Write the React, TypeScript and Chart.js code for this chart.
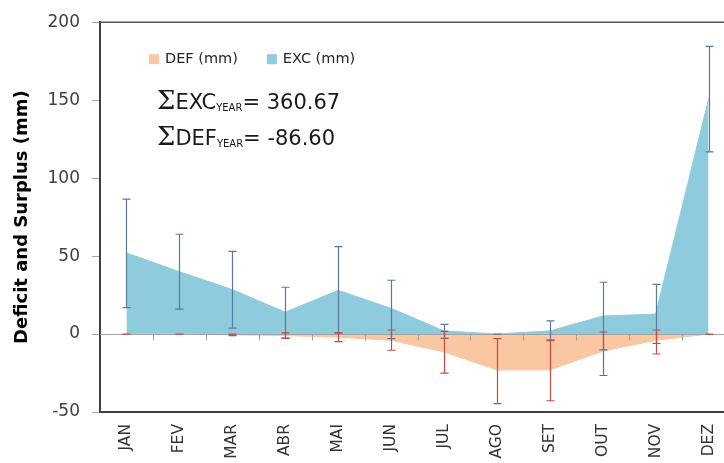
import React, { useEffect, useRef } from 'react';
import { Chart, registerables } from 'chart.js';

Chart.register(...registerables);

// ---- data ----
const months = ['JAN', 'FEV', 'MAR', 'ABR', 'MAI', 'JUN', 'JUL', 'AGO', 'SET', 'OUT', 'NOV', 'DEZ'];
const excValues = [52, 40, 28.5, 14, 28, 16.5, 2, 0, 2, 11.5, 12.8, 150.5];
const defValues = [0, 0, -0.5, -1, -2, -4, -11.5, -23, -23, -11, -4, 0];
const excUpper = [86.5, 64, 53, 30, 56, 34.5, 6.2, 0, 8.5, 33.2, 31.8, 184.5];
const excLower = [17, 16, 3.8, -2.6, 0.8, -3, -2.8, 0, -4.3, -10.2, -6, 116.8];
const defUpper = [0, 0, 0, 0.8, 0.8, 2.6, 1.7, -3, -3.8, 1.3, 2.6, 0];
const defLower = [0, 0, -1, -2.8, -4.9, -10.4, -25.1, -44.6, -42.8, -26.6, -12.8, 0];
const yMin = -50;
const yMax = 200;
const yStep = 50;
const excLabel = 'EXC (mm)';
const defLabel = 'DEF (mm)';
const excTotal = '360.67';
const defTotal = '-86.60';
const yTitle = 'Deficit and Surplus (mm)';

const EXC_FILL = '#8ecbdc';
const DEF_FILL = '#fac7a3';
const EXC_ERR = '#5a78a0';
const DEF_ERR = '#c44a44';

const overlayPlugin = {
  id: 'overlay',
  afterDatasetsDraw(chart: any) {
    const { ctx, chartArea: a, scales } = chart;
    const x = scales.x;
    const y = scales.y;
    ctx.save();
    // zero line
    const y0 = Math.round(y.getPixelForValue(0)) + 0.5;
    ctx.strokeStyle = '#a3a3a3';
    ctx.lineWidth = 1;
    ctx.beginPath();
    ctx.moveTo(a.left, y0);
    ctx.lineTo(a.right, y0);
    ctx.stroke();
    // category boundary ticks on the zero line
    ctx.beginPath();
    for (let i = 0; i < months.length - 1; i++) {
      const bx = Math.round((x.getPixelForValue(i) + x.getPixelForValue(i + 1)) / 2) + 0.5;
      ctx.moveTo(bx, y0);
      ctx.lineTo(bx, y0 + 6);
    }
    ctx.stroke();
    // top frame line
    ctx.strokeStyle = '#555555';
    ctx.lineWidth = 1.5;
    ctx.beginPath();
    ctx.moveTo(a.left, a.top);
    ctx.lineTo(a.right, a.top);
    ctx.stroke();

    // error bars
    const drawErr = (up: number[], lo: number[], color: string) => {
      ctx.strokeStyle = color;
      ctx.lineWidth = 1.2;
      for (let i = 0; i < months.length; i++) {
        const px = Math.round(x.getPixelForValue(i)) + 0.5;
        const yh = y.getPixelForValue(up[i]);
        const yl = y.getPixelForValue(lo[i]);
        ctx.beginPath();
        ctx.moveTo(px, yh);
        ctx.lineTo(px, yl);
        ctx.moveTo(px - 4, yh);
        ctx.lineTo(px + 4, yh);
        ctx.moveTo(px - 4, yl);
        ctx.lineTo(px + 4, yl);
        ctx.stroke();
      }
    };
    drawErr(excUpper, excLower, EXC_ERR);
    drawErr(defUpper, defLower, DEF_ERR);

    // legend (inside plot)
    ctx.font = '14.5px "DejaVu Sans"';
    ctx.textBaseline = 'middle';
    ctx.textAlign = 'left';
    let lx = a.left + 49;
    const ly = a.top + 37;
    chart.data.datasets.forEach((ds: any) => {
      ctx.fillStyle = ds.backgroundColor;
      ctx.fillRect(lx, ly - 5, 10, 10);
      ctx.fillStyle = '#262626';
      ctx.fillText(ds.label, lx + 16, ly);
      lx += 16 + ctx.measureText(ds.label).width + 29;
    });

    // sums annotation
    const drawSum = (sx: number, base: number, name: string, value: string) => {
      ctx.textBaseline = 'alphabetic';
      ctx.fillStyle = '#1a1a1a';
      ctx.font = '26px "DejaVu Serif"';
      ctx.fillText('\u03A3', sx, base);
      sx += ctx.measureText('\u03A3').width;
      ctx.font = '21px "DejaVu Sans"';
      ctx.fillText(name, sx, base);
      sx += ctx.measureText(name).width;
      ctx.font = '10px "DejaVu Sans"';
      ctx.fillText('YEAR', sx, base + 2);
      sx += ctx.measureText('YEAR').width;
      ctx.font = '21px "DejaVu Sans"';
      ctx.fillText('= ' + value, sx, base);
    };
    drawSum(a.left + 57, a.top + 87, 'EXC', excTotal);
    drawSum(a.left + 57, a.top + 123, 'DEF', defTotal);
    ctx.restore();
  },
};

export default function App() {
  const ref = useRef<HTMLCanvasElement>(null);
  useEffect(() => {
    const chart = new Chart(ref.current as HTMLCanvasElement, {
      type: 'line',
      data: {
        labels: months,
        datasets: [
          {
            label: defLabel,
            data: defValues,
            backgroundColor: DEF_FILL,
            borderColor: DEF_FILL,
            borderWidth: 1,
            pointRadius: 0,
            fill: 'origin',
            tension: 0,
          },
          {
            label: excLabel,
            data: excValues,
            backgroundColor: EXC_FILL,
            borderColor: EXC_FILL,
            borderWidth: 1,
            pointRadius: 0,
            fill: 'origin',
            tension: 0,
          },
        ],
      },
      options: {
        responsive: false,
        animation: false,
        devicePixelRatio: 1,
        layout: { padding: { left: 0, right: 25, top: 22, bottom: 0 } },
        plugins: { legend: { display: false }, tooltip: { enabled: false } },
        scales: {
          x: {
            offset: true,
            afterFit: (s: any) => {
              s.height = 68;
            },
            ticks: {
              autoSkip: false,
              minRotation: 90,
              maxRotation: 90,
              padding: 12,
              color: '#333333',
              font: { family: '"DejaVu Sans"', size: 15.5 },
            },
            grid: { display: false, drawTicks: false },
            border: { display: true, color: '#404040', width: 2 },
          },
          y: {
            min: yMin,
            max: yMax,
            afterFit: (s: any) => {
              s.width = 100;
            },
            ticks: {
              stepSize: yStep,
              padding: 12,
              color: '#404040',
              font: { family: '"DejaVu Sans"', size: 17 },
            },
            grid: { drawOnChartArea: false, drawTicks: true, tickLength: 8, tickColor: '#a3a3a3' },
            border: { display: true, color: '#404040', width: 2 },
            title: {
              display: true,
              text: yTitle,
              color: '#000000',
              font: { family: '"DejaVu Sans"', size: 18, weight: 'bold' },
              padding: { top: 12, bottom: 0 },
            },
          },
        },
      },
      plugins: [overlayPlugin],
    } as any);
    return () => chart.destroy();
  }, []);
  return (
    <div
      style={{
        position: 'fixed',
        left: 0,
        top: 0,
        width: 724,
        height: 463,
        overflow: 'hidden',
        background: '#ffffff',
      }}
    >
      <canvas ref={ref} width={760} height={480} style={{ display: 'block', width: 760, height: 480 }} />
    </div>
  );
}
